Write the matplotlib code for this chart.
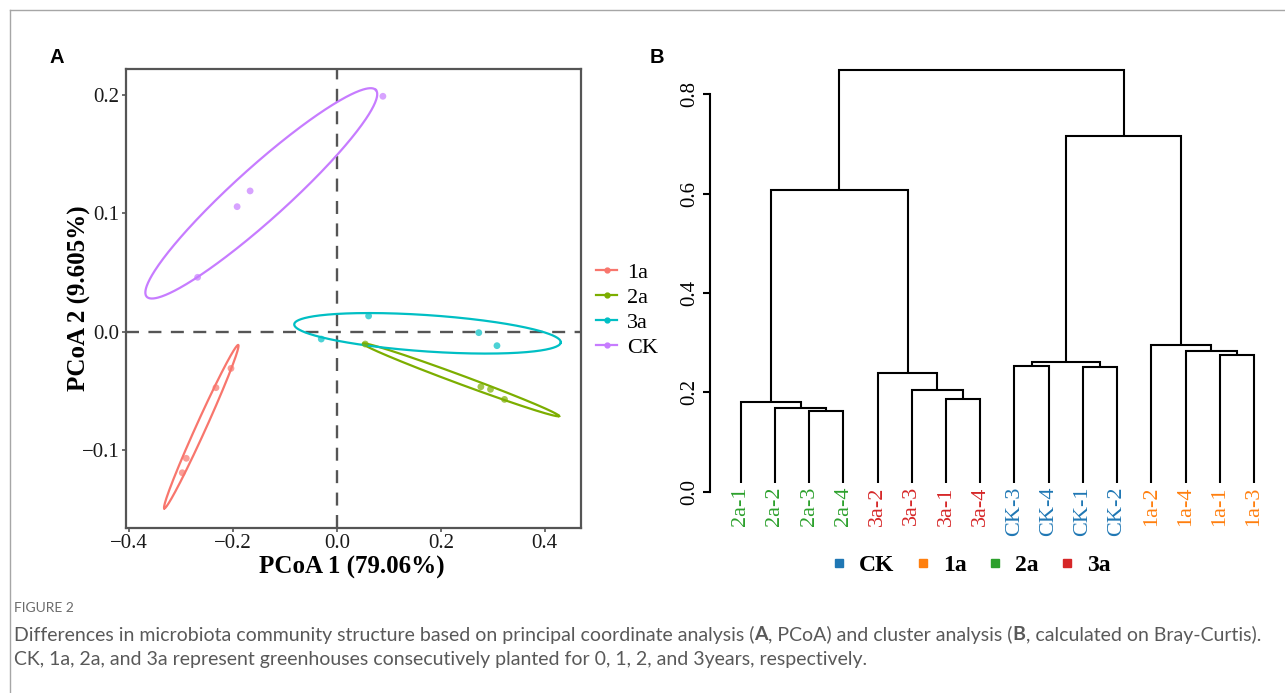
import numpy as np
import matplotlib
matplotlib.use("Agg")
import matplotlib.pyplot as plt
from matplotlib.lines import Line2D

# ---------------- data : panel A (PCoA) ----------------
groups = ["1a", "2a", "3a", "CK"]
group_colors = ["#F8766D", "#7CAE00", "#00BFC4", "#C77CFF"]

pc1_1a = [-0.2038, -0.2327, -0.2898, -0.2975]
pc2_1a = [-0.0310, -0.0473, -0.1070, -0.1192]
pc1_2a = [0.0545, 0.2770, 0.2955, 0.3225]
pc2_2a = [-0.0104, -0.0465, -0.0487, -0.0572]
pc1_3a = [-0.0301, 0.0610, 0.2730, 0.3080]
pc2_3a = [-0.0062, 0.0133, -0.0008, -0.0118]
pc1_ck = [-0.2680, -0.1920, -0.1670, 0.0885]
pc2_ck = [0.0460, 0.1057, 0.1190, 0.1990]

# confidence ellipses: major-axis end points (x0, y0, x1, y1) and minor/major ratio
ell_1a = [-0.1898, -0.0112, -0.3321, -0.1493, 0.055]
ell_2a = [0.0500, -0.0100, 0.4275, -0.0713, 0.042]
ell_3a = [-0.0821, 0.0063, 0.4308, -0.0090, 0.136]
ell_ck = [-0.3660, 0.0296, 0.0750, 0.2043, 0.170]

pcoa_xticks = [-0.4, -0.2, 0.0, 0.2, 0.4]
pcoa_yticks = [-0.1, 0.0, 0.1, 0.2]
pcoa_xlabel = "PCoA 1 (79.06%)"
pcoa_ylabel = "PCoA 2 (9.605%)"

# ---------------- data : panel B (dendrogram) ----------------
leaf_labels = ["2a-1", "2a-2", "2a-3", "2a-4", "3a-2", "3a-3", "3a-1", "3a-4",
               "CK-3", "CK-4", "CK-1", "CK-2", "1a-2", "1a-4", "1a-1", "1a-3"]
# merges (scipy-like): ids < 16 are leaves, 16+k is the k-th merge
merge_left = [2, 1, 0, 6, 5, 4, 10, 8, 23, 14, 13, 12, 18, 24, 28]
merge_right = [3, 16, 17, 7, 19, 20, 11, 9, 22, 15, 25, 26, 21, 27, 29]
merge_height = [0.163, 0.168, 0.181, 0.1865, 0.204, 0.238, 0.251, 0.252, 0.261,
                0.2757, 0.283, 0.2958, 0.607, 0.716, 0.8485]
dendro_yticks = [0.0, 0.2, 0.4, 0.6, 0.8]
legend_groups = ["CK", "1a", "2a", "3a"]
legend_colors = ["#1F77B4", "#FF7F0E", "#2CA02C", "#D62728"]

caption_title = "FIGURE 2"
caption_line1 = [("Differences in microbiota community structure based on principal "
                  "coordinate analysis (", "normal"), ("A", "bold"),
                 (", PCoA) and cluster analysis (", "normal"), ("B", "bold"),
                 (", calculated on Bray-Curtis).", "normal")]
caption_line2 = [("CK, 1a, 2a, and 3a represent greenhouses consecutively planted for "
                  "0, 1, 2, and 3years, respectively.", "normal")]

# ---------------- figure ----------------
W, H = 1285, 693
fig = plt.figure(figsize=(W / 100, H / 100), dpi=100)
SERIF = ["Liberation Serif", "DejaVu Serif"]


def fx(px):
    return px / W


def fy(py):
    return 1 - py / H


# frame lines of the page
fig.add_artist(Line2D([fx(9.5), 1], [fy(9.5), fy(9.5)], color="#A6A6A6", lw=1.0))
fig.add_artist(Line2D([fx(9.5), fx(9.5)], [0, fy(9.5)], color="#A6A6A6", lw=1.0))

# ---------------- panel A ----------------
axL, axR, axT, axB = 126, 580.5, 69.3, 528
axA = fig.add_axes([fx(axL), fy(axB), fx(axR - axL), (axB - axT) / H])
xlim = (-0.4058, 0.4687)
ylim = (-0.1659, 0.2218)
axA.set_xlim(*xlim)
axA.set_ylim(*ylim)

axA.axhline(0, color="#555555", lw=1.7, dashes=(5.5, 4), zorder=1)
axA.axvline(0, color="#555555", lw=1.7, dashes=(5.5, 4), zorder=1)

ppx = (axR - axL) / (xlim[1] - xlim[0])
ppy = (axB - axT) / (ylim[1] - ylim[0])


def draw_ellipse(ax, e, color):
    x0, y0, x1, y1, ratio = e
    p0 = np.array([x0 * ppx, y0 * ppy])
    p1 = np.array([x1 * ppx, y1 * ppy])
    c = (p0 + p1) / 2
    A = (p1 - p0) / 2
    a = np.hypot(*A)
    B = np.array([-A[1], A[0]]) / a * a * ratio
    t = np.linspace(0, 2 * np.pi, 400)
    pts = c[None, :] + np.cos(t)[:, None] * A[None, :] + np.sin(t)[:, None] * B[None, :]
    ax.plot(pts[:, 0] / ppx, pts[:, 1] / ppy, color=color, lw=1.6, zorder=3)


pts_x = [pc1_1a, pc1_2a, pc1_3a, pc1_ck]
pts_y = [pc2_1a, pc2_2a, pc2_3a, pc2_ck]
ells = [ell_1a, ell_2a, ell_3a, ell_ck]
for g, col, xs, ys, e in zip(groups, group_colors, pts_x, pts_y, ells):
    axA.scatter(xs, ys, s=24, color=col, alpha=0.7, edgecolors="none", zorder=4)
    draw_ellipse(axA, e, col)

for sp in axA.spines.values():
    sp.set_color("#555555")
    sp.set_linewidth(1.6)
axA.set_xticks(pcoa_xticks)
axA.set_yticks(pcoa_yticks)
axA.set_xticklabels([f"{v:.1f}".replace("-", "\u2212") for v in pcoa_xticks],
                    family=SERIF, fontsize=15)
axA.set_yticklabels([f"{v:.1f}".replace("-", "\u2212") for v in pcoa_yticks],
                    family=SERIF, fontsize=15)
axA.tick_params(length=3, width=1.2, color="#555555", pad=1.5, labelcolor="#1a1a1a")

fig.text(fx(352), fy(567), pcoa_xlabel, ha="center", va="center",
         family=SERIF, fontsize=18, fontweight="bold")
fig.text(fx(79), fy(298.5), pcoa_ylabel, ha="center", va="center", rotation=90,
         family=SERIF, fontsize=18, fontweight="bold")

handles = [Line2D([], [], color=c, lw=1.6, marker="o", markersize=3.5) for c in group_colors]
fig.legend(handles, groups, loc="center left", bbox_to_anchor=(fx(596), fy(310)),
           frameon=False, prop={"family": SERIF, "size": 16}, handlelength=0.95,
           handletextpad=0.45, labelspacing=0.2, borderaxespad=0, borderpad=0)

fig.text(fx(57), fy(57.5), "A", ha="center", va="center", fontsize=14.5,
         fontweight="bold", family="Liberation Sans")
fig.text(fx(657), fy(57.5), "B", ha="center", va="center", fontsize=14.5,
         fontweight="bold", family="Liberation Sans")

# ---------------- panel B ----------------
bL, bR, bT, bB = 710, 1272, 60, 500
axD = fig.add_axes([fx(bL), fy(bB), fx(bR - bL), (bB - bT) / H])
n = len(leaf_labels)
spacing_px = 34.22
xl0 = 1 - (740.7 - bL) / spacing_px
axD.set_xlim(xl0, xl0 + (bR - bL) / spacing_px)
axD.set_ylim((491.7 - bB) / 497.0, (491.7 - bT) / 497.0)

leaf_bottom = 0.017
node_x = {i: float(i + 1) for i in range(n)}
node_y = {i: leaf_bottom for i in range(n)}
for k, (l, r, h) in enumerate(zip(merge_left, merge_right, merge_height)):
    xl_, xr_ = node_x[l], node_x[r]
    axD.plot([xl_, xl_, xr_, xr_], [node_y[l], h, h, node_y[r]], color="black",
             lw=1.5, solid_joinstyle="miter", solid_capstyle="butt")
    node_x[n + k] = (xl_ + xr_) / 2
    node_y[n + k] = h

color_of = dict(zip(legend_groups, legend_colors))
for i, lab in enumerate(leaf_labels):
    axD.text(node_x[i], 0.011, lab, rotation=90, ha="center", va="top",
             family=SERIF, fontsize=16, color=color_of[lab.split("-")[0]])

for s in ["top", "right", "bottom"]:
    axD.spines[s].set_visible(False)
axD.spines["left"].set_bounds(0, 0.8)
axD.spines["left"].set_linewidth(1.5)
axD.set_xticks([])
axD.set_yticks(dendro_yticks)
axD.set_yticklabels([f"{v:.1f}" for v in dendro_yticks], rotation=90, va="center",
                    family=SERIF, fontsize=15)
axD.tick_params(axis="y", length=5, width=1.5, pad=3)

lh = [Line2D([], [], ls="", marker="s", markersize=6, color=c) for c in legend_colors]
fig.legend(lh, legend_groups, loc="center", bbox_to_anchor=(fx(970), fy(565)), ncol=4,
           frameon=False, prop={"family": SERIF, "size": 17, "weight": "bold"},
           handlelength=0.8, handletextpad=0.45, columnspacing=0.8, borderpad=0)

# ---------------- caption ----------------
cap_font = ["Lato", "DejaVu Sans"]
fig.text(fx(14), fy(608), caption_title, ha="left", va="center", family=cap_font,
         fontsize=10, color="#6b6b6b")
renderer = fig.canvas.get_renderer()


def draw_runs(runs, x_px, y_px, fs):
    texts = []
    x = x_px
    for s, wgt in runs:
        t = fig.text(fx(x), fy(y_px), s, ha="left", va="center", family=cap_font,
                     fontsize=fs, fontweight=wgt, color="#595959")
        x += t.get_window_extent(renderer).width
        texts.append(t)
    return texts, x - x_px


probe, wtot = draw_runs(caption_line1, 14, 635, 13)
for t in probe:
    t.remove()
fs = 13 * 1242 / wtot
draw_runs(caption_line1, 14, 635, fs)
draw_runs(caption_line2, 14, 660, fs)

fig.savefig("out.png", dpi=100)
